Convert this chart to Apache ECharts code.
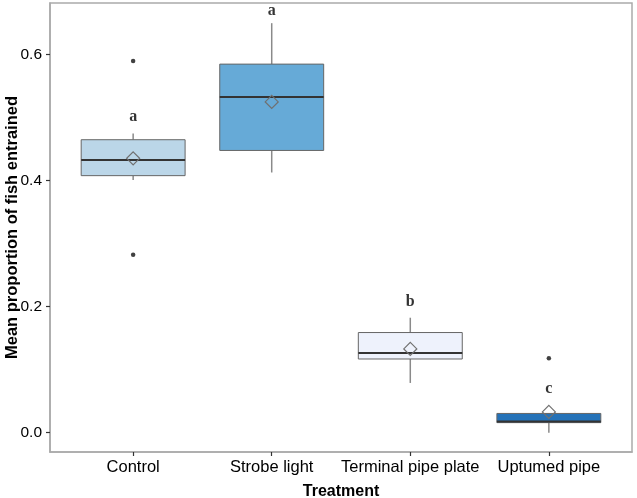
<!DOCTYPE html>
<html>
<head>
<meta charset="utf-8">
<script src="https://cdn.jsdelivr.net/npm/echarts@6/dist/echarts.min.js"></script>
<style>html,body{margin:0;padding:0;background:#fff;}#c{width:637px;height:498px;}</style>
</head>
<body>
<div id="c"></div>
<script>
const categories = ['Control', 'Strobe light', 'Terminal pipe plate', 'Uptumed pipe'];
const whiskerLow  = [0.401, 0.413, 0.079, 0.000];
const q1          = [0.408, 0.448, 0.117, 0.016];
const median      = [0.433, 0.533, 0.1265, 0.018];
const q3          = [0.465, 0.585, 0.159, 0.0306];
const whiskerHigh = [0.475, 0.650, 0.1825, 0.0306];
const means       = [0.4355, 0.525, 0.133, 0.033];
const outlierCat  = [0, 0, 3];
const outlierVal  = [0.590, 0.2825, 0.118];
const letters     = ['a', 'a', 'b', 'c'];
const letterVal   = [0.502, 0.669, 0.207, 0.069];
const boxColors   = ['#BBD6E8', '#66AAD7', '#EEF2FC', '#2572B8'];
const yTicks      = [0, 0.2, 0.4, 0.6];

const boxData = categories.map((c, i) => [i + 1, whiskerLow[i], q1[i], median[i], q3[i], whiskerHigh[i], means[i]]);
const outlierData = outlierCat.map((c, i) => [c + 1, outlierVal[i]]);
const letterData = letters.map((l, i) => [i + 1, letterVal[i], l]);

const chart = echarts.init(document.getElementById('c'));
chart.setOption({
  animation: false,
  grid: { left: 50, right: 5, top: 3, bottom: 46, containLabel: false, outerBoundsMode: 'none', show: true, borderColor: '#aaaaaa', borderWidth: 1.5, backgroundColor: 'transparent' },
  xAxis: {
    type: 'value', min: 0.4, max: 4.6,
    name: 'Treatment', nameLocation: 'middle', nameGap: 32, nameMoveOverlap: false,
    nameTextStyle: { fontFamily: 'Liberation Sans', fontWeight: 'bold', fontSize: 16, color: '#000' },
    axisLine: { show: true, onZero: false, lineStyle: { color: '#aaaaaa', width: 1.5 } },
    splitLine: { show: false },
    axisTick: { show: true, length: 4, customValues: [1, 2, 3, 4], lineStyle: { color: '#333', width: 1.2 } },
    axisLabel: { customValues: [1, 2, 3, 4], margin: 7, fontFamily: 'Liberation Sans', fontSize: 16.5, color: '#000',
      formatter: v => categories[Math.round(v) - 1] }
  },
  yAxis: {
    type: 'value', min: -0.0306, max: 0.682,
    name: 'Mean proportion of fish entrained', nameLocation: 'middle', nameGap: 29, nameMoveOverlap: false,
    nameTextStyle: { fontFamily: 'Liberation Sans', fontWeight: 'bold', fontSize: 16.5, color: '#000' },
    axisLine: { show: true, onZero: false, lineStyle: { color: '#aaaaaa', width: 1.5 } },
    splitLine: { show: false },
    axisTick: { show: true, length: 4, customValues: yTicks, lineStyle: { color: '#333', width: 1.2 } },
    axisLabel: { customValues: yTicks, margin: 8, fontFamily: 'Liberation Sans', fontSize: 15.5, color: '#000',
      formatter: v => v.toFixed(1) }
  },
  series: [
    {
      type: 'custom',
      data: boxData,
      encode: { x: 0, y: [1, 2, 3, 4, 5, 6] },
      renderItem: function (params, api) {
        const x = api.value(0);
        const i = params.dataIndex;
        const pLow = api.coord([x, api.value(1)]);
        const pQ1 = api.coord([x, api.value(2)]);
        const pMed = api.coord([x, api.value(3)]);
        const pQ3 = api.coord([x, api.value(4)]);
        const pHigh = api.coord([x, api.value(5)]);
        const pMean = api.coord([x, api.value(6)]);
        const w = api.size([0.75, 0])[0];
        const cx = pMed[0];
        const d = 6.5;
        const children = [
          { type: 'line', shape: { x1: cx, y1: pQ3[1], x2: cx, y2: pHigh[1] }, style: { stroke: '#8a8a8a', lineWidth: 1.5 } },
          { type: 'line', shape: { x1: cx, y1: pQ1[1], x2: cx, y2: pLow[1] }, style: { stroke: '#8a8a8a', lineWidth: 1.5 } },
          { type: 'rect', shape: { x: cx - w / 2, y: pQ3[1], width: w, height: pQ1[1] - pQ3[1] }, style: { fill: boxColors[i], stroke: '#666', lineWidth: 1 } },
          { type: 'line', shape: { x1: cx - w / 2, y1: pMed[1], x2: cx + w / 2, y2: pMed[1] }, style: { stroke: '#333', lineWidth: 2 } },
          { type: 'polygon', shape: { points: [[cx, pMean[1] - d], [cx + d, pMean[1]], [cx, pMean[1] + d], [cx - d, pMean[1]]] }, style: { fill: 'none', stroke: '#707070', lineWidth: 1.2 } }
        ];
        return { type: 'group', children: children };
      }
    },
    {
      type: 'scatter',
      data: outlierData,
      symbol: 'circle', symbolSize: 4.5,
      itemStyle: { color: '#111' }
    },
    {
      type: 'scatter',
      data: letterData,
      symbolSize: 0,
      label: { show: true, position: 'inside', formatter: p => p.data[2], fontFamily: 'Liberation Serif', fontWeight: 'bold', fontSize: 16, color: '#000' }
    }
  ]
});
</script>
</body>
</html>
